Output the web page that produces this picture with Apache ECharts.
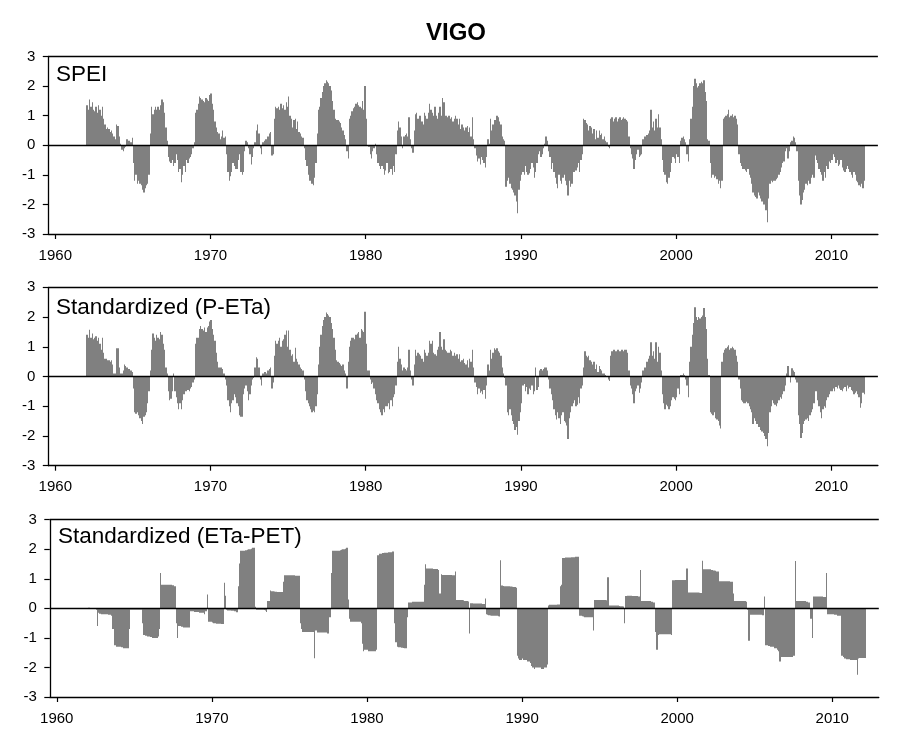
<!DOCTYPE html>
<html>
<head>
<meta charset="utf-8">
<script src="https://cdn.jsdelivr.net/npm/echarts@6/dist/echarts.min.js"></script>
<style>
  html, body { margin: 0; padding: 0; background: #ffffff; }
  #chart { width: 912px; height: 731px; }
</style>
</head>
<body>
<div id="chart"></div>
<script>
// Monthly drought indices for Vigo, one row of 12 months per year from 1962.
const FIRST_YEAR = 1962;
const yearTicks = [1960, 1970, 1980, 1990, 2000, 2010];
const panelTitles = ['SPEI', 'Standardized (P-ETa)', 'Standardized (ETa-PET)'];

const spei = [
  [1.35, 1.2, 1.55, 1.3, 1.45, 1.2, 1.15, 1.3, 1.1, 1.35, 1.2, 1.0],
  [1.3, 0.9, 0.7, 0.55, 0.6, 0.55, 0.45, 0.5, 0.4, 0.3, 0.2, 0.7],
  [0.65, 0.3, 0.05, -0.15, -0.2, -0.1, -0.05, 0.2, 0.15, 0.15, 0.1, 0.25],
  [-0.6, -1.2, -1.0, -1.3, -1.2, -1.3, -1.35, -1.5, -1.6, -1.45, -1.35, -1.3],
  [-1.0, 0.4, 1.3, 1.05, 1.2, 1.3, 1.2, 1.3, 1.2, 1.35, 1.55, 1.45],
  [1.1, 0.6, 0.15, -0.4, -0.55, -0.6, -0.5, -0.7, -0.6, -0.3, -0.5, -0.9],
  [-0.8, -1.25, -1.0, -0.7, -0.9, -0.5, -0.6, -0.45, -0.4, -0.3, -0.1, 0.1],
  [1.1, 1.2, 1.4, 1.65, 1.6, 1.55, 1.5, 1.45, 1.6, 1.55, 1.5, 1.7],
  [1.75, 1.4, 1.2, 0.8, 0.6, 0.45, 0.4, 0.2, 0.3, 0.5, 0.25, 0.3],
  [-0.3, -0.9, -1.2, -1.05, -0.9, -0.6, -0.7, -0.8, -0.8, -0.5, -0.3, -0.9],
  [-1.0, -0.9, -0.2, 0.15, 0.1, -0.1, -0.3, -0.65, -0.4, -0.1, 0.1, 0.5],
  [0.7, 0.4, -0.1, -0.3, 0.1, 0.15, 0.2, 0.2, 0.3, 0.4, 0.45, -0.35],
  [-0.3, 0.9, 1.3, 1.25, 1.3, 1.2, 1.4, 1.25, 1.35, 1.2, 1.45, 1.3],
  [1.65, 1.0, 0.9, 0.6, 0.85, 0.9, 0.55, 0.8, 0.45, 0.4, 0.3, 0.25],
  [-0.1, -0.5, -0.7, -1.0, -1.2, -1.2, -1.3, -1.35, -1.1, -0.6, 0.4, 1.2],
  [1.3, 1.6, 1.8, 2.0, 2.1, 2.2, 2.15, 2.1, 2.0, 1.85, 1.5, 1.2],
  [0.9, 0.85, 0.85, 0.8, 0.75, 0.6, 0.5, 0.35, 0.2, -0.2, -0.45, 0.9],
  [1.0, 1.15, 1.25, 1.3, 1.4, 1.45, 1.35, 1.3, 1.25, 1.5, 1.2, 2.0],
  [0.9, 0.0, -0.05, -0.3, -0.45, -0.2, -0.1, 0.05, -0.3, -0.6, -0.7, -0.8],
  [-0.7, -0.8, -1.0, -0.85, -0.6, -0.95, -0.9, -0.8, -1.0, -0.7, -0.9, -0.3],
  [0.5, 0.8, 0.6, 0.3, -0.1, 0.3, 0.35, 0.4, 0.3, 0.95, 0.2, -0.1],
  [-0.25, 0.5, 1.05, 1.1, 0.9, 1.0, 1.0, 0.8, 0.7, 1.1, 1.0, 0.9],
  [1.1, 1.4, 1.2, 1.1, 1.0, 1.3, 1.0, 0.9, 1.1, 1.3, 1.0, 1.6],
  [1.45, 1.0, 1.0, 0.95, 1.0, 0.9, 0.95, 0.8, 0.9, 1.0, 0.9, 0.7],
  [0.9, 0.55, 0.7, 0.6, 0.5, 0.6, 0.65, 0.45, 0.6, 0.3, 0.95, 0.2],
  [-0.1, -0.35, -0.55, -0.45, -0.65, -0.4, -0.5, -0.6, -0.75, -0.4, 0.2, 0.05],
  [0.9, 0.5, 0.7, 0.85, 0.85, 1.0, 0.95, 0.8, 0.7, 0.3, 0.2, 0.15],
  [-1.4, -1.2, -1.1, -1.3, -1.45, -1.5, -1.6, -1.7, -1.9, -2.3, -1.5, -1.2],
  [-1.0, -0.9, -1.0, -0.7, -0.9, -1.0, -0.95, -0.8, -0.6, -0.75, -1.1, -0.9],
  [-0.6, -0.3, -0.2, -0.4, -0.3, -0.1, 0.05, 0.3, 0.15, -0.2, -0.4, -0.8],
  [-0.6, -0.9, -1.1, -1.3, -1.45, -1.0, -1.2, -1.3, -1.1, -1.0, -1.2, -1.35],
  [-1.7, -1.2, -1.4, -1.3, -0.9, -0.9, -0.85, -0.75, -0.6, -0.9, -0.5, -0.3],
  [0.9, 0.85, 0.75, 0.7, 0.5, 0.65, 0.6, 0.4, 0.55, 0.2, 0.5, 0.25],
  [0.5, 0.35, 0.4, 0.2, 0.3, 0.15, 0.1, -0.05, -0.1, 0.9, 0.95, 0.8],
  [0.9, 0.95, 0.8, 0.9, 0.95, 0.85, 0.9, 0.95, 0.9, 0.85, 0.8, 0.3],
  [-0.1, -0.3, -0.45, -0.8, -0.5, -0.3, -0.15, -0.4, -0.35, -0.3, 0.2, 0.3],
  [0.3, 0.35, 0.4, 0.5, 1.2, 0.6, 0.8, 0.5, 0.9, 0.6, 1.05, 0.6],
  [0.2, -0.5, -0.9, -1.0, -1.25, -1.3, -1.1, -0.9, -0.6, -0.4, -0.45, -0.6],
  [-0.3, -0.4, -0.6, 0.15, 0.25, 0.3, 0.2, 0.1, -0.3, -0.55, 0.2, 0.9],
  [1.3, 2.0, 2.25, 2.1, 1.95, 2.0, 2.1, 2.15, 2.1, 2.2, 1.8, 1.5],
  [0.2, 0.15, -0.6, -1.1, -1.0, -1.1, -1.05, -1.15, -1.3, -1.2, -1.45, -1.2],
  [0.9, 0.95, 1.0, 1.05, 1.2, 0.95, 1.0, 1.05, 0.95, 1.0, 0.9, 0.7],
  [-0.3, -0.6, -0.7, -0.8, -0.8, -0.85, -0.9, -0.8, -1.0, -1.1, -1.3, -1.6],
  [-1.7, -1.75, -1.8, -1.6, -1.7, -1.8, -1.9, -2.0, -2.0, -2.2, -2.6, -1.8],
  [-1.3, -1.2, -1.25, -1.2, -1.2, -1.15, -1.1, -1.0, -0.9, -0.75, -0.6, -0.55],
  [-0.2, -0.1, -0.45, -0.2, 0.1, 0.15, 0.3, 0.25, 0.1, -0.2, -1.2, -1.7],
  [-2.0, -1.85, -1.6, -1.5, -1.3, -1.35, -1.2, -1.3, -1.1, -1.0, -1.1, -0.35],
  [-0.5, -0.6, -0.8, -0.9, -1.0, -1.2, -0.9, -1.1, -0.7, -0.8, -0.55, -0.6],
  [-0.5, -0.3, -0.4, -0.6, -0.5, -0.7, -0.65, -0.5, -0.75, -0.85, -0.9, -0.8],
  [-0.7, -0.8, -0.9, -1.0, -1.1, -0.9, -1.0, -1.2, -1.25, -1.35, -1.4, -1.3],
  [-1.45, -1.2]
];

const pMinusEta = [
  [1.4, 1.3, 1.57, 1.3, 1.45, 1.25, 1.3, 1.35, 1.2, 1.3, 1.1, 0.9],
  [1.3, 0.8, 0.6, 0.6, 0.55, 0.55, 0.5, 0.55, 0.4, 0.1, 0.1, 0.95],
  [0.95, 0.3, 0.1, 0.1, 0.2, 0.4, 0.35, 0.3, 0.25, 0.25, 0.2, 0.15],
  [-0.4, -1.2, -1.25, -1.2, -1.3, -1.4, -1.5, -1.6, -1.35, -1.3, -1.2, -0.9],
  [-0.5, 0.2, 0.9, 1.45, 1.3, 1.2, 1.4, 1.3, 1.25, 1.5, 1.4, 1.1],
  [0.9, 0.3, 0.1, -0.5, -0.8, -0.75, -0.5, 0.1, -0.5, -0.7, -0.9, -1.1],
  [-0.9, -1.1, -0.8, -0.6, -0.5, -0.5, -0.45, -0.5, -0.4, -0.35, -0.2, -0.1],
  [1.1, 1.3, 1.3, 1.6, 1.7, 1.6, 1.55, 1.65, 1.5, 1.65, 1.7, 1.85],
  [1.9, 1.6, 1.4, 1.2, 0.8, 0.5, 0.3, 0.3, 0.3, 0.25, 0.1, -0.1],
  [-0.3, -0.8, -1.0, -1.2, -0.9, -0.8, -0.6, -0.7, -0.9, -1.0, -1.3, -1.35],
  [-1.35, -0.6, -0.4, -0.3, -0.5, -0.8, -0.6, -0.3, -0.1, -0.05, 0.3, 0.65],
  [0.6, 0.3, -0.1, -0.3, 0.1, 0.15, 0.15, 0.1, 0.2, 0.25, 0.3, -0.4],
  [-0.2, 0.7, 1.2, 1.1, 1.2, 1.3, 1.0, 1.2, 1.25, 1.4, 1.55, 1.0],
  [1.55, 0.9, 0.7, 0.75, 0.5, 0.97, 0.6, 0.5, 0.4, 0.3, 0.25, 0.2],
  [-0.1, -0.5, -0.8, -0.9, -1.0, -1.1, -1.2, -1.15, -1.2, -1.0, -0.6, 0.4],
  [1.0, 1.4, 1.7, 1.9, 2.0, 2.15, 2.1, 2.05, 2.0, 1.8, 1.6, 1.3],
  [0.9, 0.55, 0.5, 0.45, 0.4, 0.35, 0.4, 0.2, 0.1, -0.4, 0.5, 1.0],
  [1.2, 1.3, 1.3, 1.25, 1.4, 1.45, 1.5, 1.3, 1.6, 1.55, 1.5, 2.18],
  [1.1, 0.2, 0.2, -0.1, -0.25, -0.2, -0.4, -0.6, -0.8, -0.9, -1.1, -1.2],
  [-1.3, -1.1, -1.2, -1.0, -1.0, -0.9, -1.1, -0.8, -1.0, -0.7, -0.6, -0.3],
  [0.5, 1.0, 0.6, 0.4, 0.2, 0.3, 0.25, 0.2, 0.3, 0.9, 0.2, -0.1],
  [-0.3, 0.4, 0.9, 0.7, 0.8, 0.75, 0.7, 0.6, 0.5, 0.9, 0.8, 0.7],
  [0.8, 1.2, 1.1, 1.2, 0.8, 0.75, 0.7, 0.9, 1.0, 1.5, 1.0, 0.9],
  [1.25, 0.9, 0.85, 0.8, 0.8, 0.9, 0.85, 0.7, 0.8, 0.7, 0.75, 0.6],
  [0.75, 0.5, 0.55, 0.6, 0.45, 0.4, 0.55, 0.3, 0.6, 0.5, 0.9, 0.3],
  [-0.2, -0.35, -0.6, -0.4, -0.55, -0.5, -0.6, -0.45, -0.75, -0.3, 0.4, 0.2],
  [0.9, 0.6, 0.8, 0.95, 0.9, 0.95, 0.85, 0.8, 0.7, 0.3, 0.1, -0.05],
  [-0.3, -1.2, -1.3, -1.1, -1.3, -1.5, -1.6, -1.8, -1.7, -1.96, -1.5, -1.2],
  [-0.9, -0.3, -0.25, -0.5, -0.35, -0.6, -0.4, -0.45, -0.3, -0.6, -0.5, 0.3],
  [-0.45, -0.35, 0.2, 0.25, 0.2, 0.25, 0.3, 0.3, 0.2, -0.1, -0.4, -0.6],
  [-0.8, -1.1, -1.3, -1.45, -1.2, -1.4, -1.6, -1.3, -1.2, -1.5, -1.55, -1.65],
  [-2.1, -1.4, -1.2, -1.0, -0.9, -0.8, -1.0, -0.95, -0.7, -0.9, -0.4, -0.3],
  [0.3, 0.85, 0.7, 0.65, 0.7, 0.55, 0.5, 0.4, 0.5, 0.25, 0.4, 0.15],
  [0.35, 0.25, 0.2, 0.1, 0.1, 0.05, 0.0, -0.1, -0.15, 0.7, 0.85, 0.9],
  [0.9, 0.85, 0.9, 0.9, 0.85, 0.9, 0.9, 0.85, 0.9, 0.9, 0.8, 0.2],
  [-0.3, -0.4, -0.6, -0.9, -0.5, -0.4, -0.3, -0.55, -0.4, -0.2, 0.2, 0.3],
  [0.3, 0.5, 0.6, 0.7, 1.15, 0.7, 0.85, 0.6, 1.15, 0.5, 1.0, 0.8],
  [0.2, -0.6, -0.9, -1.1, -0.95, -1.0, -1.1, -1.0, -0.8, -0.7, -0.75, -0.8],
  [-0.7, -0.4, -0.6, 0.05, 0.05, 0.1, 0.05, -0.1, -0.3, -0.7, 0.5, 1.0],
  [1.4, 1.8, 2.33, 2.0, 1.9, 2.0, 1.95, 2.0, 2.05, 2.3, 2.0, 1.6],
  [0.6, 0.05, -1.2, -1.25, -1.3, -1.2, -1.4, -1.45, -1.5, -1.65, -1.75, 0.5],
  [0.8, 0.9, 0.95, 1.0, 1.05, 0.9, 0.95, 1.0, 0.95, 0.9, 0.7, 0.5],
  [-0.1, -0.4, -0.8, -0.85, -0.9, -0.9, -0.85, -0.9, -1.0, -1.1, -1.2, -1.6],
  [-1.4, -1.5, -1.6, -1.7, -1.7, -1.8, -1.85, -1.9, -2.0, -2.1, -2.35, -1.9],
  [-1.2, -1.0, -0.8, -0.9, -0.95, -1.0, -0.9, -0.8, -0.7, -0.75, -0.6, -0.5],
  [-0.3, 0.1, 0.35, 0.0, -0.2, 0.28, 0.2, 0.15, -0.1, -0.2, -1.3, -1.6],
  [-2.07, -1.9, -1.6, -1.5, -1.45, -1.4, -1.5, -1.3, -1.2, -1.1, -0.9, -0.5],
  [-0.5, -0.8, -1.0, -1.2, -1.4, -1.1, -1.0, -1.05, -0.8, -0.7, -0.6, -0.5],
  [-0.5, -0.4, -0.5, -0.35, -0.4, -0.3, -0.4, -0.45, -0.5, -0.4, -0.35, -0.5],
  [-0.3, -0.4, -0.35, -0.45, -0.5, -0.6, -0.55, -0.5, -0.6, -0.7, -1.05, -0.9],
  [-0.55, -0.6]
];

const etaMinusPet = [
  [0.02, 0.02, 0.01, 0.01, 0.0, 0.0, -0.05, -0.6, -0.15, -0.18, -0.2, -0.2],
  [-0.2, -0.2, -0.2, -0.2, -0.22, -0.22, -0.25, -0.7, -1.25, -1.25, -1.3, -1.3],
  [-1.3, -1.3, -1.32, -1.35, -1.35, -1.35, -1.35, -1.35, -0.7, -0.05, -0.05, -0.05],
  [-0.05, -0.05, -0.05, -0.05, -0.05, -0.05, -0.5, -0.9, -0.93, -0.93, -0.95, -0.95],
  [-0.97, -0.97, -1.0, -1.0, -1.0, -1.0, -0.95, -0.7, 1.2, 0.8, 0.8, 0.8],
  [0.8, 0.8, 0.8, 0.8, 0.8, 0.78, 0.78, 0.75, -0.5, -1.0, -0.6, -0.6],
  [-0.62, -0.62, -0.65, -0.65, -0.65, -0.65, -0.65, -0.1, -0.1, -0.1, -0.12, -0.12],
  [-0.12, -0.12, -0.15, -0.15, -0.15, -0.15, -0.2, -0.1, 0.47, -0.45, -0.45, -0.45],
  [-0.48, -0.5, -0.5, -0.52, -0.52, -0.52, -0.52, -0.53, -0.53, 0.87, 0.43, -0.05],
  [-0.07, -0.07, -0.07, -0.08, -0.08, -0.1, -0.1, -0.13, 0.75, 1.52, 1.95, 1.95],
  [1.95, 1.95, 1.97, 1.98, 2.0, 2.0, 2.02, 2.05, 2.05, 0.05, -0.05, -0.05],
  [-0.05, -0.05, -0.05, -0.05, -0.06, -0.07, -0.12, 0.25, 0.25, 0.6, 0.58, 0.58],
  [0.57, 0.56, 0.55, 0.55, 0.55, 0.55, 0.55, 0.9, 1.12, 1.12, 1.12, 1.12],
  [1.12, 1.12, 1.12, 1.12, 1.1, 1.1, 1.1, 1.1, -0.5, -0.7, -0.8, -0.8],
  [-0.8, -0.8, -0.8, -0.8, -0.8, -0.8, -0.8, -1.69, -0.75, -0.82, -0.82, -0.82],
  [-0.82, -0.82, -0.82, -0.82, -0.82, -0.85, -0.85, -0.3, 1.2, 1.95, 1.95, 1.95],
  [1.95, 1.95, 1.95, 1.97, 1.98, 2.0, 2.0, 2.02, 2.05, 0.3, -0.35, -0.45],
  [-0.45, -0.45, -0.45, -0.45, -0.45, -0.45, -0.45, -0.5, -1.2, -1.45, -1.4, -1.4],
  [-1.4, -1.45, -1.45, -1.45, -1.45, -1.45, -1.45, -1.4, 1.8, 1.85, 1.85, 1.85],
  [1.87, 1.88, 1.88, 1.88, 1.9, 1.9, 1.9, 1.92, 1.92, -0.5, -1.15, -1.3],
  [-1.32, -1.32, -1.33, -1.33, -1.34, -1.35, -1.35, -0.3, 0.2, 0.2, 0.2, 0.22],
  [0.22, 0.22, 0.22, 0.22, 0.22, 0.22, 0.22, 0.22, 0.8, 1.49, 1.35, 1.35],
  [1.35, 1.35, 1.35, 1.33, 1.33, 1.33, 1.33, 1.3, 0.5, 1.15, 1.13, 1.13],
  [1.13, 1.13, 1.13, 1.13, 1.13, 1.13, 1.12, 1.12, 1.25, 0.28, 0.28, 0.28],
  [0.28, 0.28, 0.27, 0.25, 0.25, 0.25, 0.23, -0.85, 0.17, 0.17, 0.16, 0.16],
  [0.16, 0.16, 0.16, 0.16, 0.16, 0.15, 0.15, 0.33, -0.2, -0.22, -0.23, -0.24],
  [-0.25, -0.25, -0.25, -0.25, -0.25, -0.27, -0.28, 1.63, 0.77, 0.76, 0.75, 0.75],
  [0.75, 0.75, 0.75, 0.74, 0.73, 0.72, 0.72, 0.7, -1.6, -1.7, -1.75, -1.75],
  [-1.7, -1.75, -1.75, -1.75, -1.8, -1.8, -1.85, -1.95, -2.0, -2.05, -2.0, -2.0],
  [-2.0, -2.0, -2.0, -2.05, -2.05, -2.0, -2.0, -1.9, 0.1, 0.12, 0.12, 0.12],
  [0.12, 0.12, 0.12, 0.13, 0.13, 0.75, 0.8, 1.7, 1.7, 1.72, 1.72, 1.72],
  [1.72, 1.72, 1.73, 1.73, 1.73, 1.75, 1.75, 1.75, -0.25, -0.25, -0.27, -0.28],
  [-0.3, -0.3, -0.3, -0.3, -0.3, -0.3, -0.3, -0.75, 0.28, 0.28, 0.28, 0.28],
  [0.28, 0.28, 0.28, 0.28, 0.28, 0.27, 1.05, 0.1, 0.1, 0.1, 0.1, 0.1],
  [0.1, 0.1, 0.1, 0.08, 0.07, 0.07, 0.06, -0.5, 0.42, 0.43, 0.43, 0.43],
  [0.43, 0.42, 0.42, 0.42, 0.42, 0.42, 0.4, 1.3, 0.25, 0.25, 0.25, 0.25],
  [0.25, 0.25, 0.25, 0.25, 0.22, 0.2, 0.2, -0.8, -1.4, -0.9, -0.88, -0.88],
  [-0.88, -0.88, -0.88, -0.88, -0.88, -0.88, -0.88, -0.9, 0.95, 0.95, 0.96, 0.96],
  [0.96, 0.96, 0.96, 0.96, 0.96, 0.96, 0.96, 1.35, 0.54, 0.54, 0.54, 0.54],
  [0.54, 0.54, 0.54, 0.54, 0.54, 0.53, 0.52, 1.61, 1.32, 1.32, 1.32, 1.32],
  [1.32, 1.32, 1.3, 1.3, 1.28, 1.27, 1.25, 1.25, 0.92, 0.92, 0.92, 0.92],
  [0.92, 0.92, 0.92, 0.92, 0.92, 0.9, 0.9, 0.5, 0.25, 0.25, 0.25, 0.25],
  [0.25, 0.25, 0.25, 0.25, 0.25, 0.22, -0.05, -1.1, -0.22, -0.22, -0.22, -0.22],
  [-0.22, -0.22, -0.22, -0.22, -0.22, -0.22, -0.23, 0.4, -1.25, -1.25, -1.27, -1.27],
  [-1.3, -1.3, -1.3, -1.35, -1.35, -1.4, -1.45, -1.8, -1.65, -1.65, -1.65, -1.65],
  [-1.65, -1.65, -1.65, -1.65, -1.65, -1.65, -1.6, 1.6, 0.25, 0.25, 0.25, 0.25],
  [0.25, 0.25, 0.25, 0.25, 0.22, 0.2, 0.2, -0.35, -1.0, 0.4, 0.4, 0.4],
  [0.4, 0.4, 0.4, 0.4, 0.4, 0.38, 0.38, 1.2, -0.2, -0.2, -0.2, -0.2],
  [-0.2, -0.22, -0.22, -0.22, -0.25, -0.25, -0.25, -1.6, -1.65, -1.7, -1.7, -1.72],
  [-1.72, -1.72, -1.75, -1.75, -1.75, -1.75, -1.75, -2.25, -1.7, -1.68, -1.68, -1.68],
  [-1.68, -1.68]
];

// Turn yearly rows into [decimal year, value] pairs centred on each month.
function monthlyPoints(rows) {
  const points = [];
  rows.forEach((row, i) => {
    row.forEach((v, m) => points.push([FIRST_YEAR + i + (m + 0.5) / 12, v]));
  });
  return points;
}

const FONT = '"Liberation Sans", Arial, Helvetica, sans-serif';
const BAR_GREY = '#808080';
const HALF_MONTH = 1 / 24;
const seriesData = [spei, pMinusEta, etaMinusPet];
const grids = [
  { left: 48.3, top: 56.5, width: 829.6, height: 177.5 },
  { left: 48.3, top: 287.3, width: 829.6, height: 178.4 },
  { left: 49.8, top: 519.7, width: 829.0, height: 177.3 }
];
const labelTops = [63, 296.5, 525.5];

// Each month is a rectangle spanning its own month on the time axis, from 0 to the value.
// Horizontal edges are snapped to whole pixels so neighbouring months meet without seams.
function renderMonthBar(params, api) {
  const x = api.value(0);
  const v = api.value(1);
  const a = api.coord([x - HALF_MONTH, 0]);
  const b = api.coord([x + HALF_MONTH, v]);
  const left = Math.round(Math.min(a[0], b[0]));
  const right = Math.max(left + 1, Math.round(Math.max(a[0], b[0])));
  const top = Math.min(a[1], b[1]);
  const bottom = Math.max(a[1], b[1]);
  return {
    type: 'rect',
    shape: { x: left, y: top, width: right - left, height: bottom - top },
    style: { fill: BAR_GREY }
  };
}

const chart = echarts.init(document.getElementById('chart'), null, { renderer: 'canvas' });

const option = {
  animation: false,
  backgroundColor: '#ffffff',
  title: {
    text: 'VIGO',
    left: 'center',
    top: 16,
    textStyle: { fontFamily: FONT, fontSize: 24, fontWeight: 'bold', color: '#000' }
  },
  grid: grids.map(g => Object.assign({ containLabel: false }, g)),
  xAxis: grids.map((g, i) => ({
    type: 'value',
    gridIndex: i,
    min: 1959.55,
    max: 2013.0,
    splitLine: { show: false },
    axisLine: { show: true, onZero: false, lineStyle: { color: '#000', width: 1.3 } },
    axisTick: { show: true, customValues: yearTicks, length: 5, lineStyle: { color: '#000', width: 1.2 } },
    axisLabel: {
      show: true,
      customValues: yearTicks,
      formatter: v => String(v),
      margin: 14,
      fontSize: 15,
      fontFamily: FONT,
      color: '#000'
    }
  })),
  yAxis: grids.map((g, i) => ({
    type: 'value',
    gridIndex: i,
    min: -3,
    max: 3,
    interval: 1,
    splitLine: { show: false },
    axisLine: { show: true, lineStyle: { color: '#000', width: 1.3 } },
    axisTick: { show: true, length: 5.5, lineStyle: { color: '#000', width: 1.2 } },
    axisLabel: { margin: 13, fontSize: 15, fontFamily: FONT, color: '#000' }
  })),
  graphic: panelTitles.map((t, i) => ({
    type: 'text',
    left: i === 2 ? 58 : 56,
    top: labelTops[i],
    style: { text: t, font: '22.5px ' + FONT, fill: '#000' }
  })),
  series: seriesData.map((rows, i) => ({
    type: 'custom',
    xAxisIndex: i,
    yAxisIndex: i,
    data: monthlyPoints(rows),
    encode: { x: 0, y: 1 },
    renderItem: renderMonthBar,
    clip: true,
    silent: true,
    z: 2,
    markLine: {
      silent: true,
      symbol: ['none', 'none'],
      label: { show: false },
      lineStyle: { color: '#000', width: 1.3, type: 'solid' },
      data: [{ yAxis: 0 }, { yAxis: 3 }]
    }
  }))
};

chart.setOption(option);
</script>
</body>
</html>
